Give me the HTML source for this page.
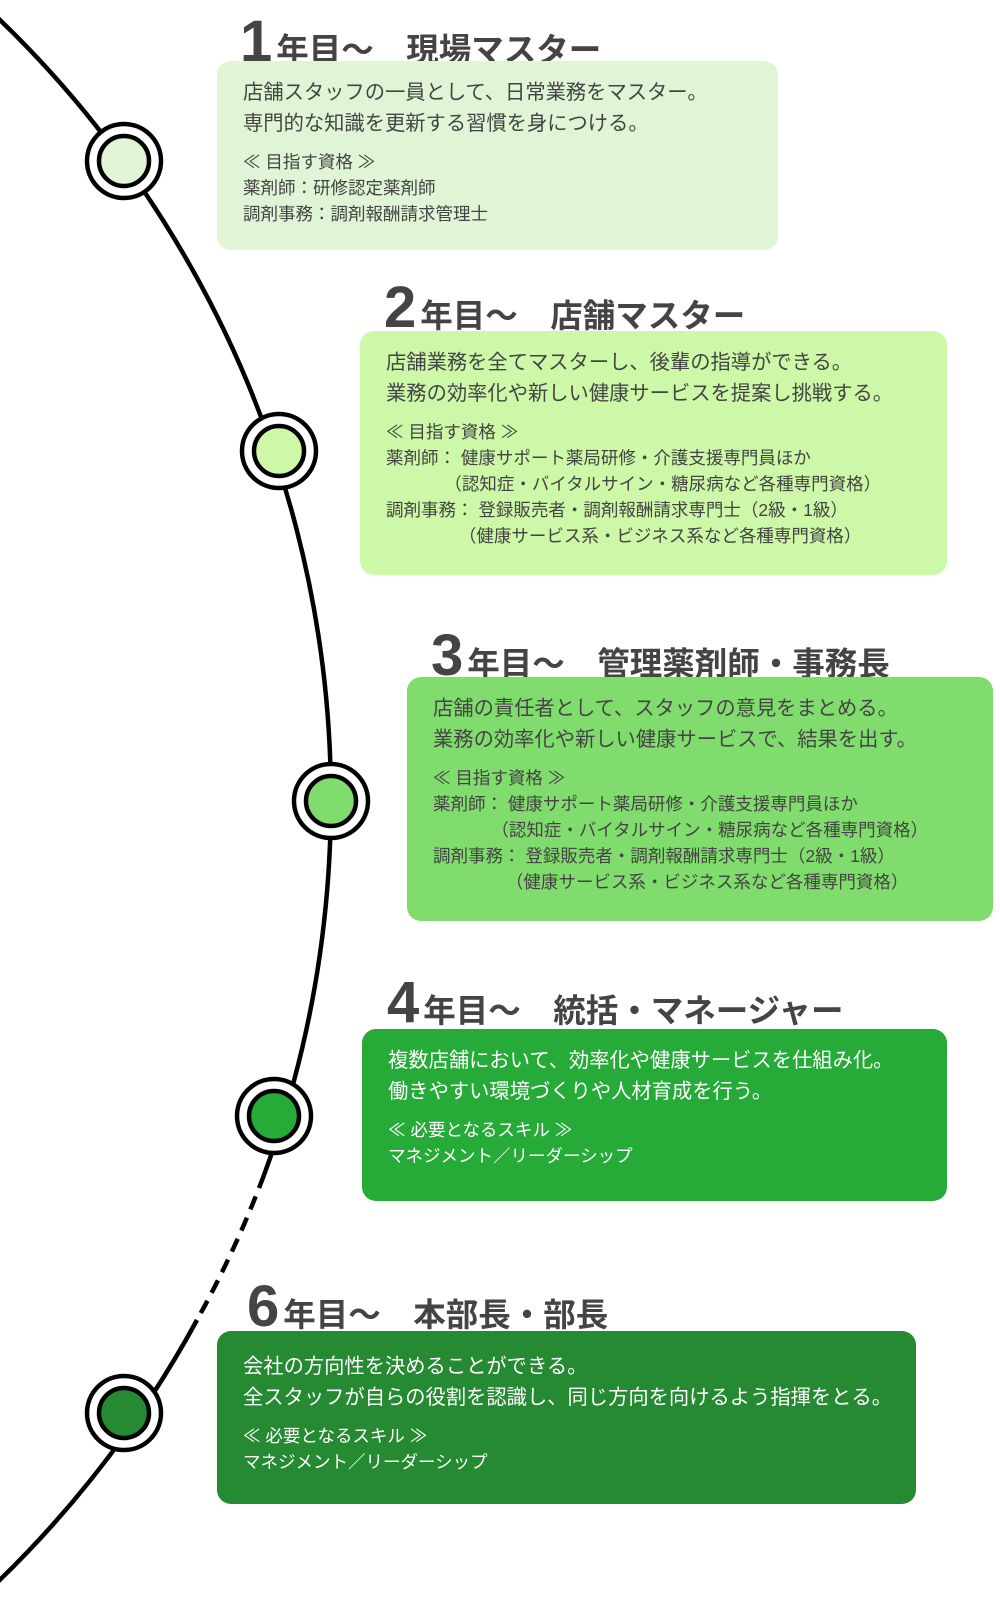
<!DOCTYPE html>
<html><head><meta charset="utf-8">
<style>
*{margin:0;padding:0;box-sizing:border-box}
body{width:1000px;height:1600px;background:#fff;position:relative;overflow:hidden;font-family:"Liberation Sans","Noto Sans CJK JP",sans-serif;color:#444}
.t{position:absolute;font-weight:bold;font-size:32.5px;white-space:nowrap;line-height:1;z-index:1}
.t b{font-size:58px;margin-right:4px}
.box{position:absolute;border-radius:14px;z-index:2;padding:17px 0 0 26px}
.m{font-size:20.3px;line-height:30.5px;white-space:nowrap}
.s{font-size:17.5px;line-height:26px;white-space:nowrap;margin-top:10px}
.w{color:#fff}
svg{position:absolute;left:0;top:0;z-index:3}
</style></head><body>

<div class="t" style="left:240px;top:13px"><b>1</b>年目～　現場マスター</div>
<div class="box" style="left:217px;top:61px;width:561px;height:189px;background:#e0f4d6">
<div class="m">店舗スタッフの一員として、日常業務をマスター。<br>専門的な知識を更新する習慣を身につける。</div>
<div class="s">≪ 目指す資格 ≫<br>薬剤師：研修認定薬剤師<br>調剤事務：調剤報酬請求管理士</div>
</div>

<div class="t" style="left:384px;top:279px"><b>2</b>年目～　店舗マスター</div>
<div class="box" style="left:360px;top:331px;width:587px;height:244px;background:#ccf8a8">
<div class="m">店舗業務を全てマスターし、後輩の指導ができる。<br>業務の効率化や新しい健康サービスを提案し挑戦する。</div>
<div class="s">≪ 目指す資格 ≫<br>薬剤師：&nbsp;健康サポート薬局研修・介護支援専門員ほか<br>&nbsp;&nbsp;&nbsp;&nbsp;&nbsp;&nbsp;&nbsp;&nbsp;&nbsp;&nbsp;&nbsp;&nbsp;（認知症・バイタルサイン・糖尿病など各種専門資格）<br>調剤事務：&nbsp;登録販売者・調剤報酬請求専門士（2級・1級）<br>&nbsp;&nbsp;&nbsp;&nbsp;&nbsp;&nbsp;&nbsp;&nbsp;&nbsp;&nbsp;&nbsp;&nbsp;&nbsp;&nbsp;&nbsp;（健康サービス系・ビジネス系など各種専門資格）</div>
</div>

<div class="t" style="left:431px;top:627px"><b>3</b>年目～　管理薬剤師・事務長</div>
<div class="box" style="left:407px;top:677px;width:586px;height:244px;background:#80dc6c">
<div class="m">店舗の責任者として、スタッフの意見をまとめる。<br>業務の効率化や新しい健康サービスで、結果を出す。</div>
<div class="s">≪ 目指す資格 ≫<br>薬剤師：&nbsp;健康サポート薬局研修・介護支援専門員ほか<br>&nbsp;&nbsp;&nbsp;&nbsp;&nbsp;&nbsp;&nbsp;&nbsp;&nbsp;&nbsp;&nbsp;&nbsp;（認知症・バイタルサイン・糖尿病など各種専門資格）<br>調剤事務：&nbsp;登録販売者・調剤報酬請求専門士（2級・1級）<br>&nbsp;&nbsp;&nbsp;&nbsp;&nbsp;&nbsp;&nbsp;&nbsp;&nbsp;&nbsp;&nbsp;&nbsp;&nbsp;&nbsp;&nbsp;（健康サービス系・ビジネス系など各種専門資格）</div>
</div>

<div class="t" style="left:387px;top:974px"><b>4</b>年目～　統括・マネージャー</div>
<div class="box w" style="left:362px;top:1029px;width:585px;height:172px;background:#26aa38">
<div class="m">複数店舗において、効率化や健康サービスを仕組み化。<br>働きやすい環境づくりや人材育成を行う。</div>
<div class="s">≪ 必要となるスキル ≫<br>マネジメント／リーダーシップ</div>
</div>

<div class="t" style="left:247px;top:1278px"><b>6</b>年目～　本部長・部長</div>
<div class="box w" style="left:217px;top:1331px;width:699px;height:173px;background:#268a32">
<div class="m" style="margin-top:4px">会社の方向性を決めることができる。<br>全スタッフが自らの役割を認識し、同じ方向を向けるよう指揮をとる。</div>
<div class="s">≪ 必要となるスキル ≫<br>マネジメント／リーダーシップ</div>
</div>

<svg width="1000" height="1600" viewBox="0 0 1000 1600">
<g fill="none" stroke="#000" stroke-width="4.5">
<path d="M-43.8,-20 A1084.5,1084.5 0 0 1 264,1175"/>
<path d="M264,1175 A1084.5,1084.5 0 0 1 197,1320" stroke-dasharray="14,9"/>
<path d="M197,1320 A1084.5,1084.5 0 0 1 -43.8,1620"/>
</g>
<g stroke="#000" stroke-width="4.5">
<circle cx="124" cy="161" r="37" fill="#fff"/><circle cx="124" cy="161" r="25" fill="#e0f4d6"/>
<circle cx="279" cy="451" r="37" fill="#fff"/><circle cx="279" cy="451" r="25" fill="#ccf8a8"/>
<circle cx="331" cy="801" r="37" fill="#fff"/><circle cx="331" cy="801" r="25" fill="#80dc6c"/>
<circle cx="274" cy="1116" r="37" fill="#fff"/><circle cx="274" cy="1116" r="25" fill="#26aa38"/>
<circle cx="124" cy="1413" r="37" fill="#fff"/><circle cx="124" cy="1413" r="25" fill="#268a32"/>
</g>
</svg>
</body></html>
